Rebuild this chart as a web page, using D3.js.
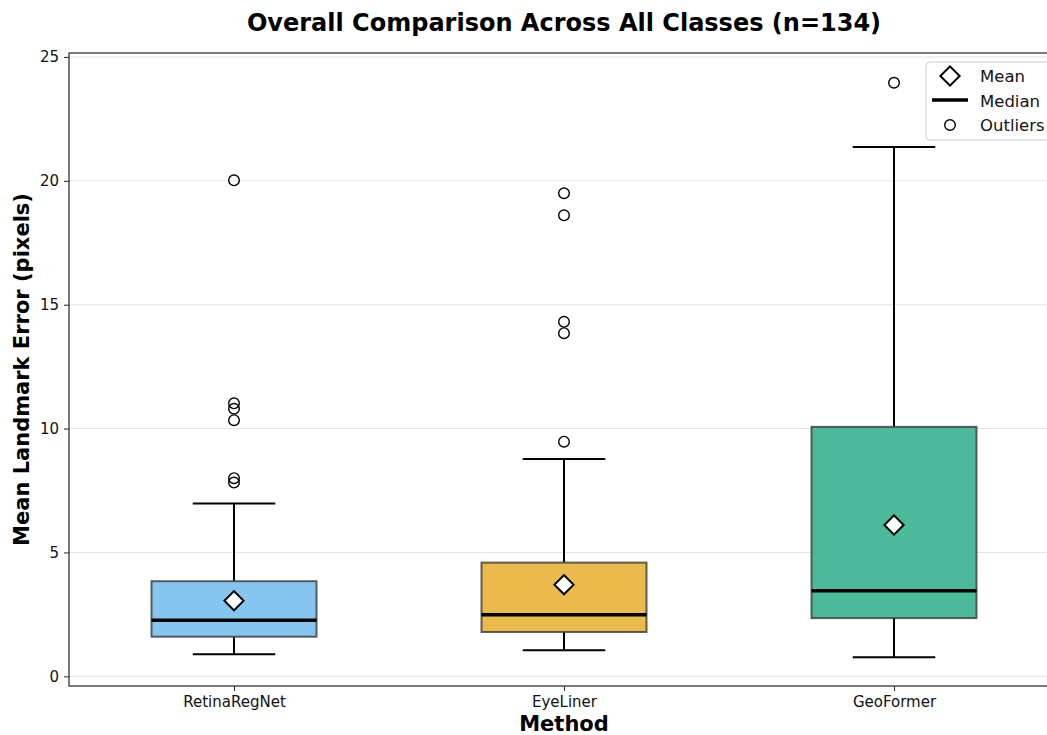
<!DOCTYPE html>
<html>
<head>
<meta charset="utf-8">
<script src="https://cdn.jsdelivr.net/npm/d3@7"></script>
<style>
  html, body { margin: 0; padding: 0; background: #ffffff; }
  svg { display: block; font-family: "DejaVu Sans", sans-serif; }
</style>
</head>
<body>
<svg id="chart" width="1047" height="735"></svg>
<script>
// Per-method landmark error summaries (pixels)
const methods = ["RetinaRegNet", "EyeLiner", "GeoFormer"];
const whiskerLow = [0.89, 1.05, 0.77];
const q1 = [1.60, 1.79, 2.35];
const medians = [2.26, 2.49, 3.45];
const q3 = [3.84, 4.59, 10.07];
const whiskerHigh = [6.98, 8.77, 21.37];
const means = [3.05, 3.70, 6.11];
const outliers = [
  [20.02, 11.02, 10.80, 10.34, 8.00, 7.82],
  [19.50, 18.61, 14.31, 13.85, 9.47],
  [23.96]
];
const fills = ["#86c6ee", "#ebba4c", "#4aba9b"];
const yTicks = [0, 5, 10, 15, 20, 25];
const legendLabels = ["Mean", "Median", "Outliers"];

const svg = d3.select("#chart");
const plotLeft = 69, plotRight = 1059, plotTop = 53, plotBottom = 686;

const x = d3.scaleLinear().domain([0.5, 3.5]).range([plotLeft, plotRight]);
const y = d3.scaleLinear().domain([-0.39, 25.16]).range([plotBottom, plotTop]);

const boxHalf = 0.25, capHalf = 0.125;

svg.append("defs").append("clipPath").attr("id", "plotClip")
  .append("rect").attr("x", plotLeft).attr("y", plotTop)
  .attr("width", plotRight - plotLeft).attr("height", plotBottom - plotTop);

const plot = svg.append("g").attr("clip-path", "url(#plotClip)");

// Horizontal grid
plot.append("g").selectAll("line").data(yTicks).join("line")
  .attr("x1", plotLeft).attr("x2", plotRight)
  .attr("y1", d => y(d)).attr("y2", d => y(d))
  .attr("stroke", "#b0b0b0").attr("stroke-opacity", 0.35).attr("stroke-width", 1);

const data = methods.map((m, i) => ({
  name: m, pos: i + 1, lo: whiskerLow[i], q1: q1[i], med: medians[i], q3: q3[i],
  hi: whiskerHigh[i], mean: means[i], out: outliers[i], fill: fills[i]
}));

const g = plot.selectAll("g.box").data(data).join("g").attr("class", "box");

// Whiskers
g.append("line")
  .attr("x1", d => x(d.pos)).attr("x2", d => x(d.pos))
  .attr("y1", d => y(d.lo)).attr("y2", d => y(d.q1))
  .attr("stroke", "#000").attr("stroke-width", 2);
g.append("line")
  .attr("x1", d => x(d.pos)).attr("x2", d => x(d.pos))
  .attr("y1", d => y(d.q3)).attr("y2", d => y(d.hi))
  .attr("stroke", "#000").attr("stroke-width", 2);
// Caps
g.append("line")
  .attr("x1", d => x(d.pos - capHalf)).attr("x2", d => x(d.pos + capHalf))
  .attr("y1", d => y(d.lo)).attr("y2", d => y(d.lo))
  .attr("stroke", "#000").attr("stroke-width", 2);
g.append("line")
  .attr("x1", d => x(d.pos - capHalf)).attr("x2", d => x(d.pos + capHalf))
  .attr("y1", d => y(d.hi)).attr("y2", d => y(d.hi))
  .attr("stroke", "#000").attr("stroke-width", 2);

// Boxes
g.append("rect")
  .attr("x", d => x(d.pos - boxHalf))
  .attr("width", d => x(d.pos + boxHalf) - x(d.pos - boxHalf))
  .attr("y", d => y(d.q3))
  .attr("height", d => y(d.q1) - y(d.q3))
  .attr("fill", d => d.fill)
  .attr("stroke", "#3a3a3a").attr("stroke-opacity", 0.8).attr("stroke-width", 2);

// Medians
g.append("line")
  .attr("x1", d => x(d.pos - boxHalf)).attr("x2", d => x(d.pos + boxHalf))
  .attr("y1", d => y(d.med)).attr("y2", d => y(d.med))
  .attr("stroke", "#000").attr("stroke-width", 3.5);

// Outliers
g.selectAll("circle").data(d => d.out.map(v => ({ pos: d.pos, v }))).join("circle")
  .attr("cx", d => x(d.pos)).attr("cy", d => y(d.v)).attr("r", 5.3)
  .attr("fill", "none").attr("stroke", "#000").attr("stroke-width", 1.4);

// Means
const diamond = d3.symbol().type(d3.symbolSquare).size(185);
g.append("path")
  .attr("d", diamond())
  .attr("transform", d => `translate(${x(d.pos)},${y(d.mean)}) rotate(45)`)
  .attr("fill", "#fff").attr("stroke", "#000").attr("stroke-width", 2);

// Spines
svg.append("rect").attr("x", plotLeft).attr("y", plotTop)
  .attr("width", plotRight - plotLeft).attr("height", plotBottom - plotTop)
  .attr("fill", "none").attr("stroke", "#333").attr("stroke-width", 1.3);

// Y axis
const yAxis = svg.append("g").attr("transform", `translate(${plotLeft},0)`)
  .call(d3.axisLeft(y).tickValues(yTicks).tickSize(5).tickPadding(5));
yAxis.select(".domain").remove();
yAxis.selectAll(".tick line").attr("stroke", "#333").attr("stroke-width", 1.1);
yAxis.selectAll(".tick text").attr("font-size", 15).attr("fill", "#111")
  .attr("font-family", "DejaVu Sans, sans-serif");

// X axis
const xAxis = svg.append("g").attr("transform", `translate(0,${plotBottom})`)
  .call(d3.axisBottom(x).tickValues([1, 2, 3]).tickFormat(d => methods[d - 1]).tickSize(5).tickPadding(5));
xAxis.select(".domain").remove();
xAxis.selectAll(".tick line").attr("stroke", "#333").attr("stroke-width", 1.1);
xAxis.selectAll(".tick text").attr("font-size", 15).attr("fill", "#111")
  .attr("font-family", "DejaVu Sans, sans-serif");

// Titles
svg.append("text").attr("x", (plotLeft + plotRight) / 2).attr("y", 31)
  .attr("text-anchor", "middle").attr("font-size", 24).attr("font-weight", "bold")
  .text("Overall Comparison Across All Classes (n=134)");
svg.append("text").attr("x", (plotLeft + plotRight) / 2).attr("y", 731)
  .attr("text-anchor", "middle").attr("font-size", 21).attr("font-weight", "bold")
  .text("Method");
svg.append("text")
  .attr("transform", `translate(29,${(plotTop + plotBottom) / 2}) rotate(-90)`)
  .attr("text-anchor", "middle").attr("font-size", 21).attr("font-weight", "bold")
  .text("Mean Landmark Error (pixels)");

// Legend
const lg = svg.append("g").attr("transform", "translate(926,62)");
lg.append("rect").attr("x", 0).attr("y", 0).attr("width", 140).attr("height", 78).attr("rx", 4)
  .attr("fill", "#fff").attr("fill-opacity", 0.85).attr("stroke", "#cccccc").attr("stroke-width", 1);
lg.append("path").attr("d", diamond())
  .attr("transform", "translate(24,14) rotate(45)")
  .attr("fill", "#fff").attr("stroke", "#000").attr("stroke-width", 2);
lg.append("line").attr("x1", 6).attr("x2", 42).attr("y1", 38).attr("y2", 38)
  .attr("stroke", "#000").attr("stroke-width", 3.5);
lg.append("circle").attr("cx", 24).attr("cy", 63).attr("r", 5.3)
  .attr("fill", "none").attr("stroke", "#000").attr("stroke-width", 1.4);
lg.selectAll("text.lbl").data(legendLabels).join("text").attr("class", "lbl")
  .attr("x", 54).attr("y", (d, i) => 20 + i * 24.5)
  .attr("font-size", 16.5).attr("fill", "#111").text(d => d);
</script>
</body>
</html>
